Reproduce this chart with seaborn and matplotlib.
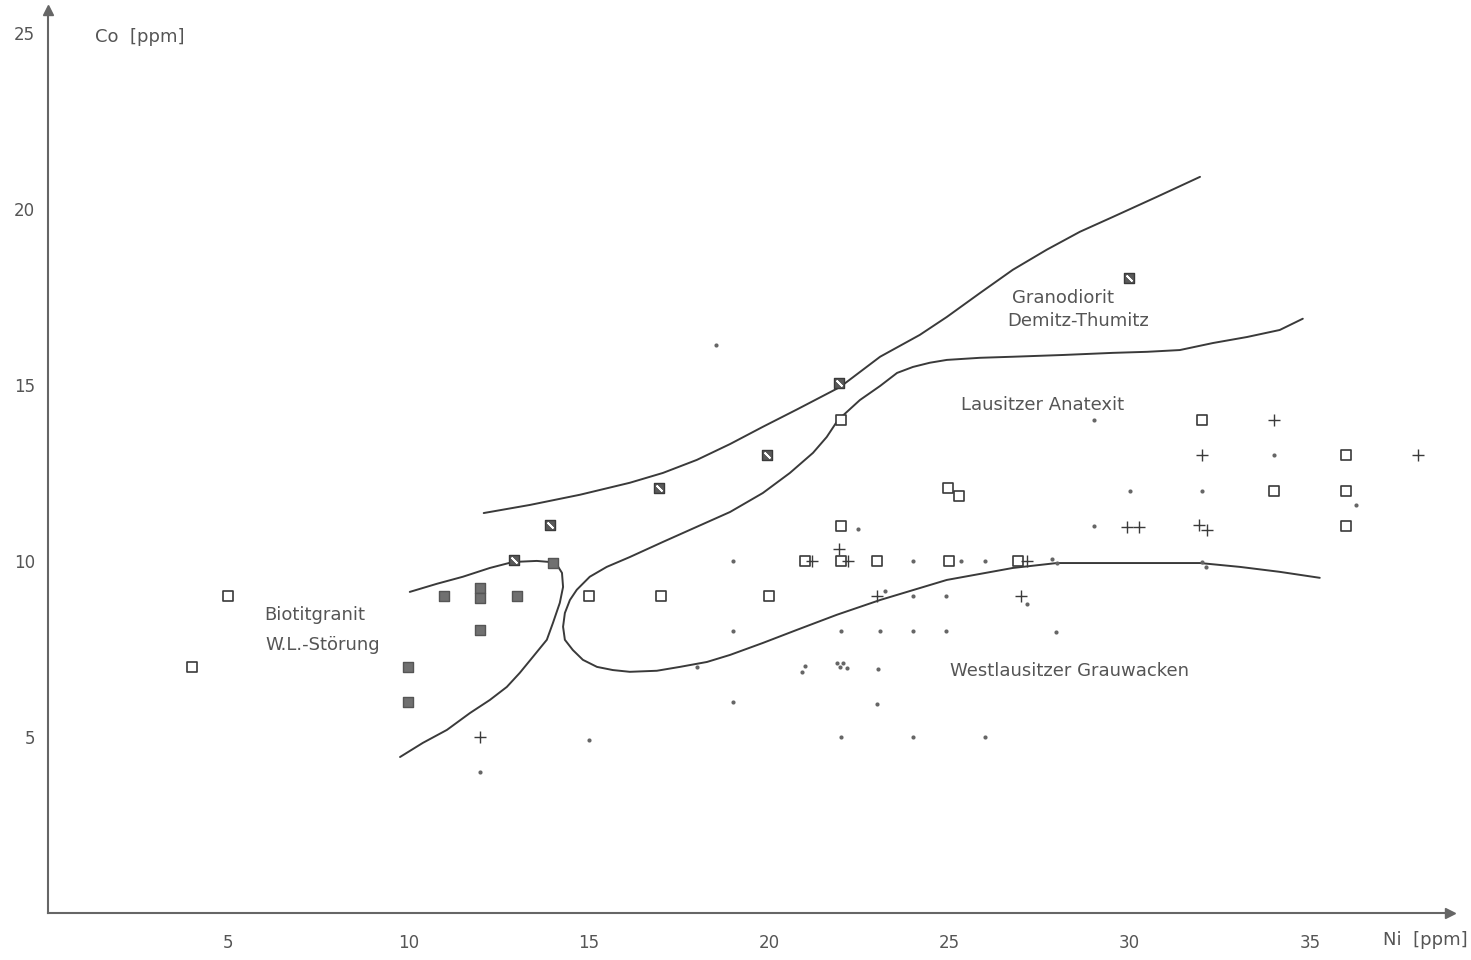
import numpy as np
import pandas as pd
import matplotlib
matplotlib.use("Agg")
import matplotlib.pyplot as plt
import seaborn as sns

# --- data (Ni vs Co, ppm) ---
open_sq_ni = [4, 5, 15, 17, 20, 22, 22, 21, 22, 23, 25, 26.9, 24.96, 25.27, 32, 34, 36, 36, 36]
open_sq_co = [7, 9, 9, 9, 9, 14, 11, 10, 10, 10, 10, 10, 12.07, 11.85, 14, 12, 13, 12, 11]

full_sq_ni = [10, 10, 11, 12, 12, 12, 13, 14]
full_sq_co = [7, 6, 9, 9.23, 8.95, 8.04, 9, 9.94]

half_sq_ni = [12.93, 13.93, 16.95, 19.94, 21.94, 29.98]
half_sq_co = [10.03, 11.02, 12.07, 13.01, 15.06, 18.04]

plus_ni = [12, 21.2, 21.94, 22.2, 23, 27.15, 27, 29.92, 30.26, 31.92, 32.14, 32, 34, 38]
plus_co = [5, 10, 10.34, 10, 9, 10, 9, 10.97, 10.97, 11.02, 10.88, 13, 14, 13]

dot_ni = [12, 15, 18, 19, 19, 19, 20.91, 21, 21.88, 22.05, 21.97, 22.16, 22, 22, 22.46,
          23.02, 23, 23.07, 23.21, 24, 24, 24, 24, 24.9, 24.9, 25.32, 26, 26, 27.15,
          27.84, 27.98, 27.95, 29, 29, 30, 32, 34, 32, 32.11, 36.27, 18.53]
dot_co = [4, 4.9, 7, 10, 8, 6, 6.85, 7.02, 7.1, 7.1, 6.99, 6.96, 8, 5, 10.91,
          6.93, 5.94, 8, 9.15, 10, 9, 8, 5, 9, 8, 10, 10, 5, 8.78,
          10.06, 9.94, 7.98, 14, 11, 12, 12, 13, 9.97, 9.83, 11.59, 16.14]

# boundary curves, traced
upper_ni = [12.09, 13.37, 14.76, 16.14, 17.06, 18.0, 18.92, 19.83, 20.77, 21.97, 23.08,
            24.18, 24.93, 25.85, 26.76, 27.7, 28.62, 29.53, 30.75, 31.95]
upper_co = [11.36, 11.59, 11.88, 12.22, 12.5, 12.87, 13.32, 13.81, 14.3, 14.94, 15.8,
            16.42, 16.93, 17.61, 18.27, 18.84, 19.35, 19.77, 20.34, 20.91]

loop_ni = [34.8, 34.16, 33.25, 32.31, 31.39, 30.48, 29.53, 28.15, 26.76, 25.85, 24.93,
           24.46, 23.99, 23.55, 23.08, 22.52, 21.91, 21.6, 21.22, 20.58, 19.83, 18.92,
           18.0, 17.06, 16.14, 15.5, 15.03, 14.67, 14.48, 14.34, 14.29, 14.34, 14.56,
           14.84, 15.23, 15.67, 16.14, 16.89, 17.53, 18.28, 18.92, 19.83, 20.77, 21.88,
           23.08, 24.93, 26.76, 27.98, 29.17, 30.48, 31.95, 33.06, 34.16, 35.27]
loop_co = [16.88, 16.56, 16.36, 16.19, 15.99, 15.94, 15.91, 15.85, 15.8, 15.77, 15.71,
           15.63, 15.51, 15.34, 14.97, 14.57, 14.0, 13.52, 13.07, 12.5, 11.93, 11.39,
           10.97, 10.54, 10.11, 9.83, 9.55, 9.18, 8.89, 8.52, 8.13, 7.76, 7.47,
           7.19, 6.99, 6.9, 6.85, 6.88, 6.99, 7.13, 7.33, 7.67, 8.04, 8.47,
           8.89, 9.46, 9.8, 9.94, 9.94, 9.94, 9.94, 9.83, 9.69, 9.52]

biot_ni = [10.04, 10.79, 11.51, 12.26, 12.9, 13.56, 13.92, 14.12, 14.26, 14.29, 14.2,
           14.01, 13.84, 13.45, 13.09, 12.73, 12.26, 11.71, 11.07, 10.4, 9.77]
biot_co = [9.12, 9.35, 9.55, 9.8, 9.97, 10.0, 9.97, 9.89, 9.66, 9.26, 8.81,
           8.24, 7.76, 7.27, 6.82, 6.42, 6.05, 5.68, 5.2, 4.83, 4.43]

x_ticks = [5, 10, 15, 20, 25, 30, 35]
y_ticks = [5, 10, 15, 20, 25]

sns.set_style("white")
plt.rcParams["font.family"] = ["DejaVu Sans"]

ink = "#3a3a3a"
grey = "#555555"

fig = plt.figure(figsize=(14.71, 9.6), dpi=100)
ax = fig.add_axes([0.0324, 0.049, 0.9533, 0.9406])

for xs, ys in [(upper_ni, upper_co), (loop_ni, loop_co), (biot_ni, biot_co)]:
    sns.lineplot(x=xs, y=ys, sort=False, estimator=None, color=ink, lw=1.4, ax=ax,
                 solid_joinstyle="round", solid_capstyle="round")

sns.scatterplot(x=open_sq_ni, y=open_sq_co, marker="s", s=50, facecolor="white",
                edgecolor=ink, linewidth=1.2, ax=ax, zorder=3)
sns.scatterplot(x=full_sq_ni, y=full_sq_co, marker="s", s=60, color="#707070",
                edgecolor="#555555", linewidth=1, ax=ax, zorder=3)
sns.scatterplot(x=half_sq_ni, y=half_sq_co, marker="s", s=60, color="#5a5a5a",
                edgecolor=ink, linewidth=1, ax=ax, zorder=3)
sns.scatterplot(x=half_sq_ni, y=half_sq_co, marker=(2, 2, 45), s=22, color="white",
                linewidth=1.3, ax=ax, zorder=4)
sns.scatterplot(x=plus_ni, y=plus_co, marker="+", s=70, color=ink, linewidth=1,
                ax=ax, zorder=3)
sns.scatterplot(x=dot_ni, y=dot_co, marker="o", s=9, color="#666666", linewidth=0,
                ax=ax, zorder=3)

ax.set_xlim(0, 38.88)
ax.set_ylim(0, 25.65)
ax.set_xticks(x_ticks)
ax.set_yticks(y_ticks)
ax.tick_params(axis="both", length=5, width=1, color=grey, labelcolor=grey,
               labelsize=12, pad=10)
ax.tick_params(axis="y", pad=4)
for side in ["top", "right"]:
    ax.spines[side].set_visible(False)
for side in ["left", "bottom"]:
    ax.spines[side].set_color("#666666")
    ax.spines[side].set_linewidth(1.5)

# axis arrows
ax.plot(1, 0, ">", color="#666666", ms=7, transform=ax.transAxes, clip_on=False)
ax.plot(0, 1, "^", color="#666666", ms=7, transform=ax.transAxes, clip_on=False)

# axis labels
ax.text(140 / 1471, 1 - 37 / 960, "Co  [ppm]", transform=fig.transFigure, fontsize=13,
        color=grey, ha="center", va="center")
ax.text(1425 / 1471, 1 - 940 / 960, "Ni  [ppm]", transform=fig.transFigure, fontsize=13,
        color=grey, ha="center", va="center")

# field labels
labels = [
    (1063, 298, "Granodiorit"),
    (1078, 321, "Demitz-Thumitz"),
    (1043, 405, "Lausitzer Anatexit"),
    (1070, 671, "Westlausitzer Grauwacken"),
    (315, 615, "Biotitgranit"),
    (323, 645, "W.L.-Störung"),
]
for px, py, t in labels:
    fig.text(px / 1471, 1 - py / 960, t, fontsize=13, color=grey, ha="center",
             va="center")

fig.savefig("out.png", dpi=100)
